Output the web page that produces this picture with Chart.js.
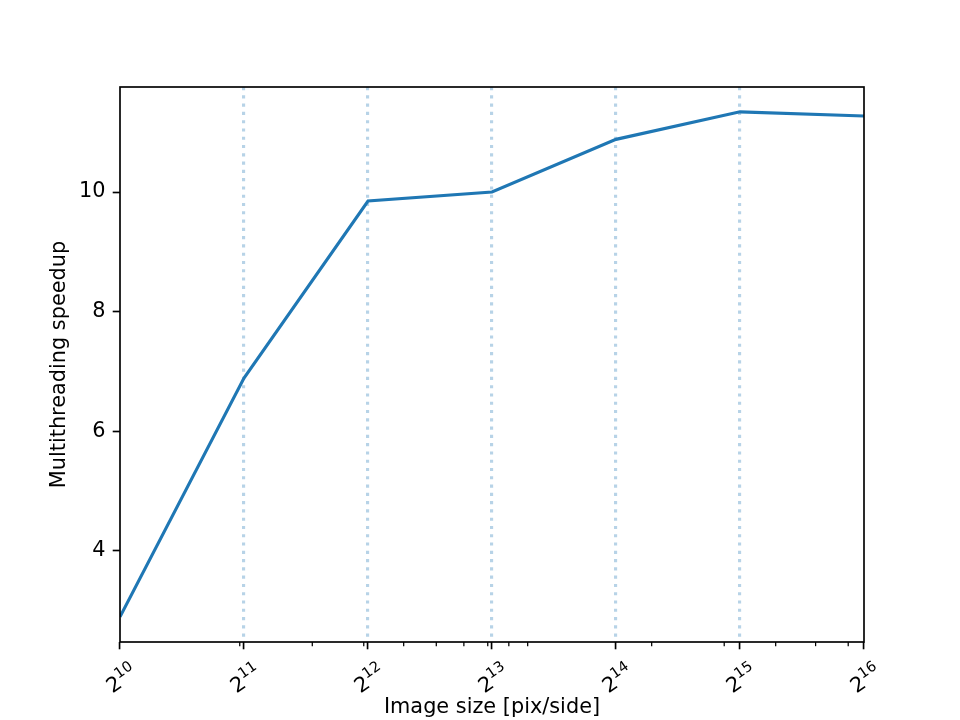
<!DOCTYPE html>
<html>
<head>
<meta charset="utf-8">
<script src="https://cdn.jsdelivr.net/npm/chart.js@4/dist/chart.umd.min.js"></script>
<style>
  html, body { margin: 0; padding: 0; background: #fff; }
  #c { display: block; }
</style>
</head>
<body>
<canvas id="c" width="960" height="720"></canvas>
<script>
// ---- data (x = exponent of 2 for image size in pix/side) ----
const xExponents = [10, 11, 12, 13, 14, 15, 16];
const speedup = [2.90, 6.89, 9.85, 10.00, 10.88, 11.34, 11.27];
const yTicks = [4, 6, 8, 10];
const gridExponents = [11, 12, 13, 14, 15];
const minorTickValues = [2000, 3000, 4000, 5000, 6000, 7000, 8000, 9000,
                         10000, 20000, 30000, 40000, 50000, 60000];
const xTickBase = '2';
const xTitle = 'Image size [pix/side]';
const yTitle = 'Multithreading speedup';

const FONT = 'DejaVu Sans';
const PX = 150 / 72; // matplotlib points -> pixels at 150 dpi
const BASE_SIZE = 10 * PX;
const SUP_SIZE = 0.7 * BASE_SIZE;
const SUP_RAISE = 0.42 * BASE_SIZE;
const LABEL_ROT = 35 * Math.PI / 180;

Chart.defaults.color = '#000';
Chart.defaults.font.family = FONT;

const framePlugin = {
  id: 'frame',
  afterDatasetsDraw(chart) {
    const { ctx, chartArea: a, scales } = chart;
    const x = scales.x;
    ctx.save();
    ctx.strokeStyle = '#000';
    ctx.lineWidth = 0.6 * PX;
    for (const v of minorTickValues) {
      const px = x.getPixelForValue(Math.log2(v));
      ctx.beginPath();
      ctx.moveTo(px, a.bottom);
      ctx.lineTo(px, a.bottom + 2 * PX);
      ctx.stroke();
    }
    ctx.lineWidth = 0.8 * PX;
    ctx.strokeRect(a.left, a.top, a.right - a.left, a.bottom - a.top);
    ctx.restore();
  },
  afterDraw(chart) {
    // x tick labels as base with a raised, smaller exponent (like 2^10), rotated
    const { ctx, chartArea: a, scales } = chart;
    const x = scales.x;
    const top = a.bottom + 7 * PX + 3;
    ctx.save();
    ctx.fillStyle = '#000';
    ctx.textBaseline = 'alphabetic';
    ctx.textAlign = 'left';
    for (const e of xExponents) {
      const px = x.getPixelForValue(e);
      ctx.font = BASE_SIZE + 'px "' + FONT + '"';
      const w1 = ctx.measureText(xTickBase).width;
      ctx.font = SUP_SIZE + 'px "' + FONT + '"';
      const w2 = ctx.measureText(String(e)).width;
      const W = w1 + w2;
      const T = -(SUP_RAISE + 0.73 * SUP_SIZE);
      const c = Math.cos(LABEL_ROT), s = Math.sin(LABEL_ROT);
      const pts = [[0, 0], [W, 0], [0, T], [W, T]].map(([u, v]) => [u * c + v * s, -u * s + v * c]);
      const minX = Math.min(...pts.map(p => p[0])), maxX = Math.max(...pts.map(p => p[0]));
      const minY = Math.min(...pts.map(p => p[1]));
      const ax = px - (minX + maxX) / 2;
      const ay = top - minY;
      ctx.save();
      ctx.translate(ax, ay);
      ctx.rotate(-LABEL_ROT);
      ctx.font = BASE_SIZE + 'px "' + FONT + '"';
      ctx.fillText(xTickBase, 0, 0);
      ctx.font = SUP_SIZE + 'px "' + FONT + '"';
      ctx.fillText(String(e), w1, -SUP_RAISE);
      ctx.restore();
    }
    ctx.restore();
  }
};

new Chart(document.getElementById('c'), {
  type: 'line',
  data: {
    datasets: [{
      data: xExponents.map((e, i) => ({ x: e, y: speedup[i] })),
      borderColor: '#1f77b4',
      borderWidth: 1.5 * PX,
      pointRadius: 0,
      tension: 0,
      fill: false
    }]
  },
  options: {
    responsive: false,
    animation: false,
    devicePixelRatio: 1,
    layout: { padding: { top: 87, right: 96, left: 0, bottom: 0 } },
    plugins: { legend: { display: false }, tooltip: { enabled: false } },
    scales: {
      x: {
        type: 'linear',
        min: 10,
        max: 16,
        afterFit(s) { s.height = 78; },
        afterBuildTicks(s) { s.ticks = xExponents.map(v => ({ value: v })); },
        ticks: { display: false, autoSkip: false },
        grid: {
          color: c => (c.tick && gridExponents.includes(c.tick.value)) ? 'rgba(31,119,180,0.32)' : 'rgba(0,0,0,0)',
          lineWidth: 1.5 * PX,
          tickColor: '#000',
          tickWidth: 0.8 * PX,
          tickLength: 3.5 * PX,
          tickBorderDash: []
        },
        border: { display: false, dash: [1.5 * PX, 2.475 * PX] },
        title: {
          display: true,
          text: xTitle,
          font: { family: FONT, size: BASE_SIZE },
          padding: { top: 0, bottom: 0 }
        }
      },
      y: {
        type: 'linear',
        min: 2.479,
        max: 11.755,
        afterFit(s) { s.width = 120; },
        afterBuildTicks(s) { s.ticks = yTicks.map(v => ({ value: v })); },
        ticks: {
          padding: 3.5 * PX,
          font: { family: FONT, size: BASE_SIZE },
          callback: v => String(v)
        },
        grid: {
          color: 'rgba(0,0,0,0)',
          tickColor: '#000',
          tickWidth: 0.8 * PX,
          tickLength: 3.5 * PX
        },
        border: { display: false },
        title: {
          display: true,
          text: yTitle,
          font: { family: FONT, size: BASE_SIZE },
          padding: { top: 47, bottom: 0 }
        }
      }
    }
  },
  plugins: [framePlugin]
});
</script>
</body>
</html>
